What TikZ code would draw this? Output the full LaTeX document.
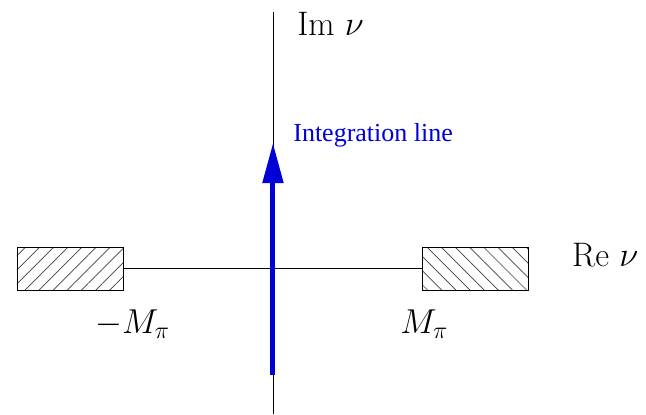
\documentclass[tikz,border=0pt]{standalone}
\usepackage{fontspec}
\newfontfamily\timesfont{Liberation Serif}
\usetikzlibrary{arrows.meta,patterns.meta}
\definecolor{intblue}{RGB}{0,0,215}

\begin{document}
\begin{tikzpicture}[
    cut/.style={draw,thin,minimum width=1.863cm,minimum height=0.756cm,inner sep=0pt},
    lab/.style={anchor=base west,inner sep=0pt,font=\fontsize{17}{20}\selectfont}
  ]
  \useasboundingbox (-4.797,-2.566) rectangle (6.555,4.710);
  % axes
  \coordinate (top) at (0,4.50);
  \coordinate (bot) at (0,-2.566);
  \node[cut,pattern={Lines[angle=45,distance=5pt,line width=0.35pt]},pattern color=black!75] (cutL) at (-3.567,-0.009) {};
  \node[cut,pattern={Lines[angle=-45,distance=5pt,line width=0.35pt]},pattern color=black!75] (cutR) at (3.558,-0.009) {};
  \draw[thin] (top) -- (bot);
  \draw[thin] (cutL.east) -- (cutR.west);
  % integration line
  \coordinate (ilow) at (0,-1.88);
  \coordinate (ihigh) at (0,2.197);
  \draw[intblue,line width=2.5pt,-{Triangle[length=20pt,width=10pt]}] (ilow) -- (ihigh);
  \node[anchor=base west,inner sep=0pt,intblue,font=\timesfont\fontsize{13}{15}\selectfont] (ilab) at (0.351,2.232) {Integration line};
  % labels
  \node[lab] (imlab) at (0.42,4.094) {Im $\nu$};
  \node[lab] (relab) at (5.25,0.02) {Re $\nu$};
  \node[lab] (mlab) at (-3.13,-1.142) {$-M_\pi$};
  \node[lab] (plab) at (2.23,-1.142) {$M_\pi$};
\end{tikzpicture}
\end{document}
